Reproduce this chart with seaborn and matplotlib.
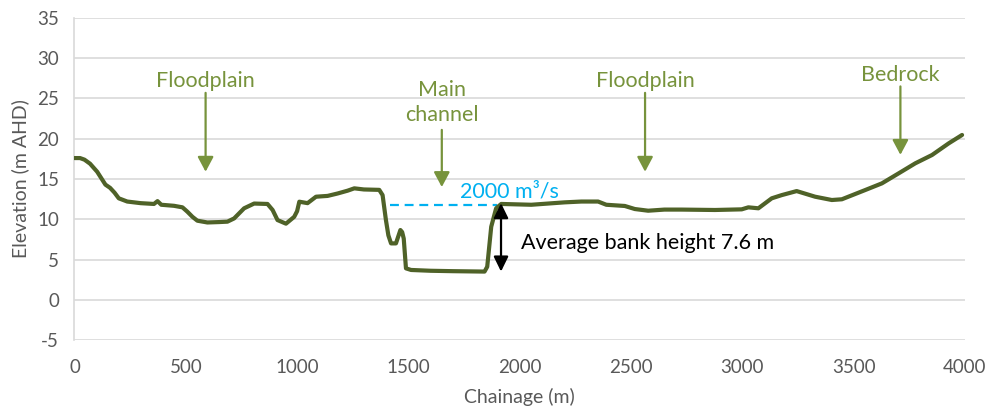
import matplotlib
matplotlib.use("Agg")
import matplotlib.pyplot as plt
import seaborn as sns
import pandas as pd

# Surveyed cross-section: chainage (m) and ground elevation (m AHD)
chainage = [0, 25, 45, 70, 102, 139, 160, 180, 199, 237, 297, 357, 373, 390,
            447, 485, 507, 530, 552, 597, 650, 687, 717, 762, 807, 867, 890,
            912, 950, 987, 1000, 1010, 1047, 1085, 1137, 1182, 1227, 1257,
            1300, 1369, 1384, 1399, 1410, 1422, 1444, 1464, 1472, 1479, 1489,
            1512, 1600, 1700, 1842, 1854, 1872, 1894, 1917, 2052, 2202, 2277,
            2352, 2389, 2472, 2517, 2577, 2650, 2727, 2877, 2997, 3027, 3072,
            3132, 3177, 3244, 3327, 3402, 3447, 3552, 3627, 3702, 3777, 3852,
            3927, 3987]
elevation = [17.6, 17.6, 17.4, 16.9, 15.9, 14.3, 13.9, 13.3, 12.6, 12.2, 12.0,
             11.9, 12.25, 11.8, 11.67, 11.48, 10.94, 10.3, 9.82, 9.6, 9.65,
             9.7, 10.1, 11.36, 11.95, 11.9, 11.15, 9.9, 9.45, 10.3, 11.0,
             12.18, 12.0, 12.8, 12.9, 13.2, 13.55, 13.84, 13.7, 13.65, 13.0,
             9.9, 8.0, 7.0, 7.0, 8.66, 8.4, 7.6, 3.9, 3.7, 3.6, 3.55, 3.5, 4.1,
             9.07, 11.36, 11.9, 11.8, 12.1, 12.2, 12.2, 11.8, 11.65, 11.27,
             11.06, 11.2, 11.2, 11.15, 11.23, 11.48, 11.36, 12.6, 13.0, 13.5,
             12.8, 12.39, 12.48, 13.63, 14.46, 15.7, 16.95, 17.98, 19.43, 20.47]

x_ticks = [0, 500, 1000, 1500, 2000, 2500, 3000, 3500, 4000]
y_ticks = [-5, 0, 5, 10, 15, 20, 25, 30, 35]

# Landform callouts: label, chainage of arrow, arrow top, arrow tip
callout_labels = ["Floodplain", "Main\nchannel", "Floodplain", "Bedrock"]
callout_x = [589, 1650, 2563, 3710]
callout_top = [25.7, 21.1, 25.7, 26.5]
callout_tip = [15.9, 14.0, 15.9, 18.0]
callout_text_y = [27.2, 24.5, 27.2, 27.9]

# Bankfull flow level and average bank height
flow_label = "2000 m\u00b3/s"
flow_level = 11.8
flow_start, flow_end = 1417, 1898
bank_height = 7.6
bank_top, bank_bottom = 12.0, 3.5
bank_x = 1916

sns.set_theme(style="whitegrid")
plt.rcParams["font.family"] = ["Lato", "DejaVu Sans"]
plt.rcParams["axes.unicode_minus"] = False

profile = pd.DataFrame({"Chainage (m)": chainage, "Elevation (m AHD)": elevation})

fig = plt.figure(figsize=(9.89, 4.09), dpi=100)
ax = fig.add_axes([0.0753, 0.1687, 0.9004, 0.7873])

grey = "#D9D9D9"
text_grey = "#595959"
green = "#77933C"

sns.lineplot(data=profile, x="Chainage (m)", y="Elevation (m AHD)", ax=ax,
             color="#4F6228", linewidth=3.0, estimator=None, sort=False, zorder=3)

ax.set_xlim(0, 4000)
ax.set_ylim(-5, 35)
ax.set_xticks(x_ticks)
ax.set_yticks(y_ticks)
ax.grid(axis="y", color=grey, linewidth=1.2)
ax.grid(axis="x", visible=False)
ax.set_facecolor("white")
for side in ["top", "right", "bottom"]:
    ax.spines[side].set_visible(False)
ax.spines["left"].set_color(grey)
ax.spines["left"].set_linewidth(1.2)
ax.tick_params(axis="x", pad=14, labelsize=13.5, colors=text_grey, length=0)
ax.tick_params(axis="y", pad=11, labelsize=13.5, colors=text_grey, length=0)
ax.set_xlabel("Chainage (m)", fontsize=14, color=text_grey, labelpad=8)
ax.set_ylabel("Elevation (m AHD)", fontsize=14, color=text_grey, labelpad=6)

# Landform callouts with downward arrows
for label, x, top, tip, ty in zip(callout_labels, callout_x, callout_top,
                                  callout_tip, callout_text_y):
    ax.annotate("", xy=(x, tip), xytext=(x, top),
                arrowprops=dict(arrowstyle="-|>,head_length=0.45,head_width=0.24",
                                mutation_scale=20, color=green, lw=1.6,
                                shrinkA=0, shrinkB=0), zorder=4)
    ax.text(x, ty, label, color=green, fontsize=15.5, ha="center", va="center",
            linespacing=1.3, zorder=4)

# Water level for the 2000 m3/s flow
sns.lineplot(x=[flow_start, flow_end], y=[flow_level, flow_level], ax=ax,
             color="#00B0F0", linewidth=1.6, linestyle=(0, (4, 2.6)), zorder=2)
ax.text(1956, 13.5, flow_label, color="#00B0F0", fontsize=15.5,
        ha="center", va="center", zorder=4)

# Bank height marker
ax.annotate("", xy=(bank_x, bank_bottom), xytext=(bank_x, bank_top),
            arrowprops=dict(arrowstyle="<|-|>,head_length=0.45,head_width=0.22",
                            mutation_scale=20, color="black", lw=1.6,
                            shrinkA=0, shrinkB=0), zorder=4)
ax.text(2006, 7.05, f"Average bank height {bank_height} m", color="black",
        fontsize=15.5, ha="left", va="center", zorder=4)

fig.savefig("out.png", dpi=100, facecolor="white")
